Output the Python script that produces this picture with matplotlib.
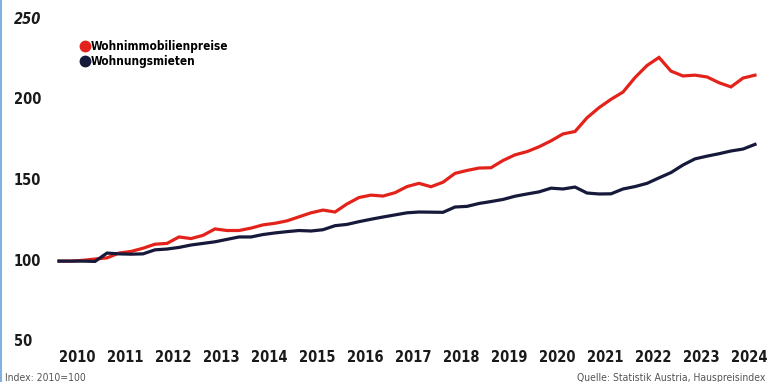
import numpy as np
import matplotlib.pyplot as plt

# quarterly index values, 2010 Q1 .. 2024 Q3 (2010 = 100)
quarters = np.arange(2010.125, 2024.75, 0.25)

preise = [99, 99, 99.5, 100.3, 101, 104, 105, 107, 109.5, 110,
          114, 113, 115, 119, 118, 118, 119.5, 121.5, 122.5, 124,
          126.5, 129, 130.7, 129.5, 134.5, 138.5, 140, 139.4, 141.5, 145.3,
          147.3, 145.2, 148, 153.5, 155.3, 156.8, 157, 161.5, 165, 167,
          170, 173.7, 178, 179.5, 188, 194.3, 199.5, 204, 213, 220.5,
          225.5, 217, 214, 214.5, 213.4, 209.8, 207.2, 212.7, 214.5]

mieten = [99, 99, 99, 98.8, 104, 103.5, 103.3, 103.5, 106, 106.5,
          107.5, 109, 110, 111, 112.5, 114, 114, 115.5, 116.5, 117.3,
          118, 117.7, 118.5, 121, 121.8, 123.5, 125, 126.4, 127.7, 129,
          129.5, 129.4, 129.3, 132.6, 133, 134.8, 136, 137.3, 139.3, 140.7,
          142, 144.3, 143.8, 145, 141.3, 140.7, 140.8, 143.8, 145.3, 147.3,
          150.7, 154, 158.7, 162.5, 164.2, 165.7, 167.4, 168.6, 171.5]

years = list(range(2010, 2025))
yticks = [50, 100, 150, 200, 250]

red = "#e3231b"
navy = "#16193a"
narrow = ["Liberation Sans Narrow", "DejaVu Sans"]

fig = plt.figure(figsize=(7.67, 3.82), dpi=100)
ax = fig.add_axes([0, 42 / 382, 1, 322 / 382])

ax.plot(quarters, preise, color=red, lw=2.3, solid_joinstyle="miter")
ax.plot(quarters, mieten, color=navy, lw=2.3, solid_joinstyle="miter")

ax.set_xlim(2010 - 53 / 48, 2010 + 714 / 48)
ax.set_ylim(50, 250)
for s in ax.spines.values():
    s.set_visible(False)

ax.set_xticks([y + 0.5 for y in years])
ax.set_xticklabels([str(y) for y in years], family=narrow, fontweight="bold",
                   fontsize=10.5, fontstretch="condensed", color="#1a1a1a")
ax.set_yticks(yticks)
ax.set_yticklabels([str(v) for v in yticks], family=narrow, fontweight="bold",
                   fontsize=10.5, fontstretch="condensed", color="#1a1a1a", ha="left")
ax.get_yticklabels()[-1].set_fontstyle("italic")
ax.tick_params(axis="x", length=0, pad=7)
ax.tick_params(axis="y", length=0, pad=-10)

# legend
ax.plot([], [], "o", color=red, ms=7.5, label="Wohnimmobilienpreise")
ax.plot([], [], "o", color=navy, ms=7.5, label="Wohnungsmieten")
leg = ax.legend(handles=ax.lines[2:], loc="upper left", bbox_to_anchor=(0.094, 0.965),
                frameon=False, handlelength=0.4, handletextpad=0.3, labelspacing=0.15,
                prop={"family": narrow, "weight": "bold", "size": 8.5,
                      "stretch": "condensed"})

fig.text(0.006, 0.003, "Index: 2010=100", family=narrow, fontsize=7.5,
         fontstretch="condensed", color="#555555")
fig.text(0.998, 0.003, "Quelle: Statistik Austria, Hauspreisindex", family=narrow,
         fontsize=7.5, fontstretch="condensed", color="#555555", ha="right")

fig.add_artist(plt.Line2D([0.001, 0.001], [0, 1], color="#7fb2e0", lw=1.5))

fig.savefig("out.png", dpi=100)
